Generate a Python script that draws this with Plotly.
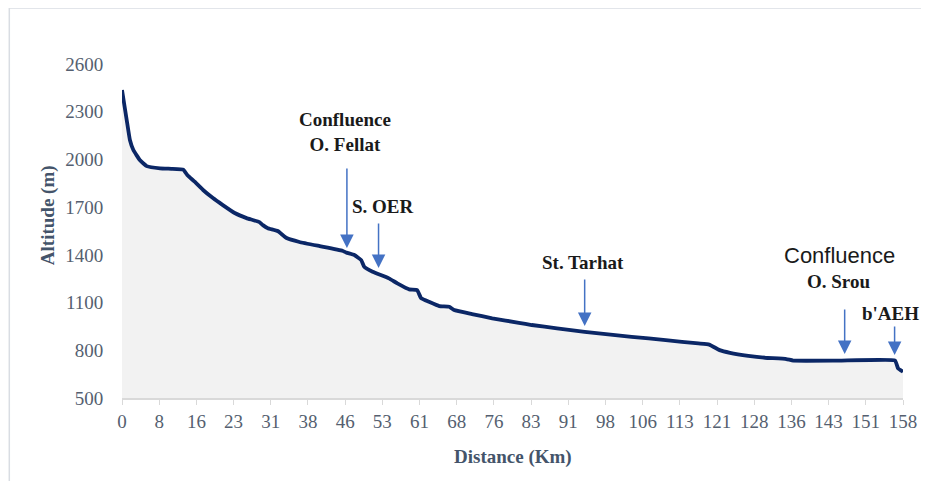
import numpy as np
import plotly.graph_objects as go

# ---- data ----
distance_km = [0, 0.95, 1.6, 2.3, 3.6, 5.0, 7.7, 10.0, 12.4, 13.2, 14.7, 16.4, 18.4, 20.4,
               22.8, 25.2, 27.8, 28.5, 29.5, 31.5, 33.3, 35.9, 40.0, 44.6, 45.4, 47.0,
               48.4, 49.0, 50.7, 54.0, 55.7, 58.1, 59.7, 60.5, 62.1, 64.2, 66.2, 67.2,
               70.8, 74.9, 80.3, 82.9, 88.0, 93.6, 103.1, 110.0, 116.6, 118.8, 120.9,
               123.0, 126.7, 130.1, 134.4, 135.8, 145.0, 156.4, 157.0, 158.0]
altitude_m = [2437, 2248, 2122, 2059, 1996, 1958, 1944, 1941, 1936, 1902, 1860, 1808, 1757, 1713,
              1663, 1631, 1606, 1587, 1568, 1550, 1506, 1481, 1455, 1426, 1414, 1399,
              1367, 1325, 1294, 1252, 1221, 1183, 1179, 1128, 1105, 1078, 1074, 1053,
              1028, 1001, 973, 959, 938, 916, 885, 864, 843, 836, 801,
              784, 765, 753, 745, 735, 735, 736, 686, 665]

x_tick_labels = ["0", "8", "16", "23", "31", "38", "46", "53", "61", "68", "76", "83",
                 "91", "98", "106", "113", "121", "128", "136", "143", "151", "158"]
y_tick_values = [500, 800, 1100, 1400, 1700, 2000, 2300, 2600]

# markers: label, km of arrow, altitude of arrow tip
marker_labels = ["Confluence<br>O. Fellat", "S. OER", "St. Tarhat", "O. Srou", "b'AEH"]
marker_km = [45.5, 51.9, 93.6, 146.2, 156.3]
marker_tip_alt = [1443, 1317, 953, 777, 770]
label_km = [45.2, 52.7, 93.2, 145.0, 155.4]
label_alt = [2172, 1707, 1349, 1231, 1034]

SERIF = "Liberation Serif"

fig = go.Figure()
fig.add_trace(go.Scatter(
    x=distance_km, y=altitude_m, mode="lines",
    line=dict(color="#0b2766", width=3.8, shape="spline", smoothing=0.3),
    fill="tozeroy", fillcolor="#f2f2f2", hoverinfo="skip", showlegend=False))

tickvals = np.linspace(0, 158, len(x_tick_labels))

fig.update_layout(
    width=921, height=473,
    margin=dict(l=114, r=24, t=56, b=83),
    paper_bgcolor="white", plot_bgcolor="white",
    xaxis=dict(range=[0, 158], tickvals=tickvals, ticktext=x_tick_labels,
               showgrid=False, zeroline=False, showline=True, linecolor="#d9d9d9",
               linewidth=1.5, ticks="outside", ticklen=5, tickcolor="#d9d9d9",
               tickfont=dict(family=SERIF, size=19, color="#555f70")),
    yaxis=dict(range=[500, 2600], tickvals=y_tick_values,
               showgrid=False, zeroline=False, showline=False,
               ticks="outside", ticklen=14, tickcolor="rgba(0,0,0,0)",
               tickfont=dict(family=SERIF, size=19, color="#555f70")),
)

# outer frame
fig.add_shape(type="rect", xref="paper", yref="paper",
              x0=-0.1443, x1=1.06, y0=-0.30, y1=1.1677,
              line=dict(color="#d9dde3", width=1.5), fillcolor="rgba(0,0,0,0)", layer="below")

# axis titles
fig.add_annotation(text="<b>Distance (Km)</b>", xref="paper", yref="paper",
                   x=0.5, y=-0.178, showarrow=False, xanchor="center", yanchor="middle",
                   font=dict(family=SERIF, size=19, color="#44546a"))
fig.add_annotation(text="<b>Altitude (m)</b>", xref="paper", yref="paper",
                   x=-0.0945, y=0.548, showarrow=False, textangle=-90,
                   xanchor="center", yanchor="middle",
                   font=dict(family=SERIF, size=19, color="#44546a"))

# arrows
arrow_len = [-81, -46, -48, -46, -30]
for km, tip, ay in zip(marker_km, marker_tip_alt, arrow_len):
    fig.add_annotation(x=km, y=tip, xref="x", yref="y", text="", showarrow=True,
                       ax=0, ay=ay, axref="pixel", ayref="pixel",
                       arrowhead=2, arrowsize=1.8, arrowwidth=1.5, arrowcolor="#4472c4",
                       standoff=0)

# labels
for txt, km, al in zip(marker_labels, label_km, label_alt):
    fig.add_annotation(x=km, y=al, xref="x", yref="y", text="<b>" + txt + "</b>",
                       showarrow=False, xanchor="center", yanchor="middle",
                       font=dict(family=SERIF, size=19, color="#1a1a1a"))

# large sans "Confluence" above O. Srou
fig.add_annotation(x=145.1, y=1399, xref="x", yref="y", text="Confluence",
                   showarrow=False, xanchor="center", yanchor="middle",
                   font=dict(family="Liberation Sans", size=22, color="#1a1a1a"))

fig.write_html("out.html")
